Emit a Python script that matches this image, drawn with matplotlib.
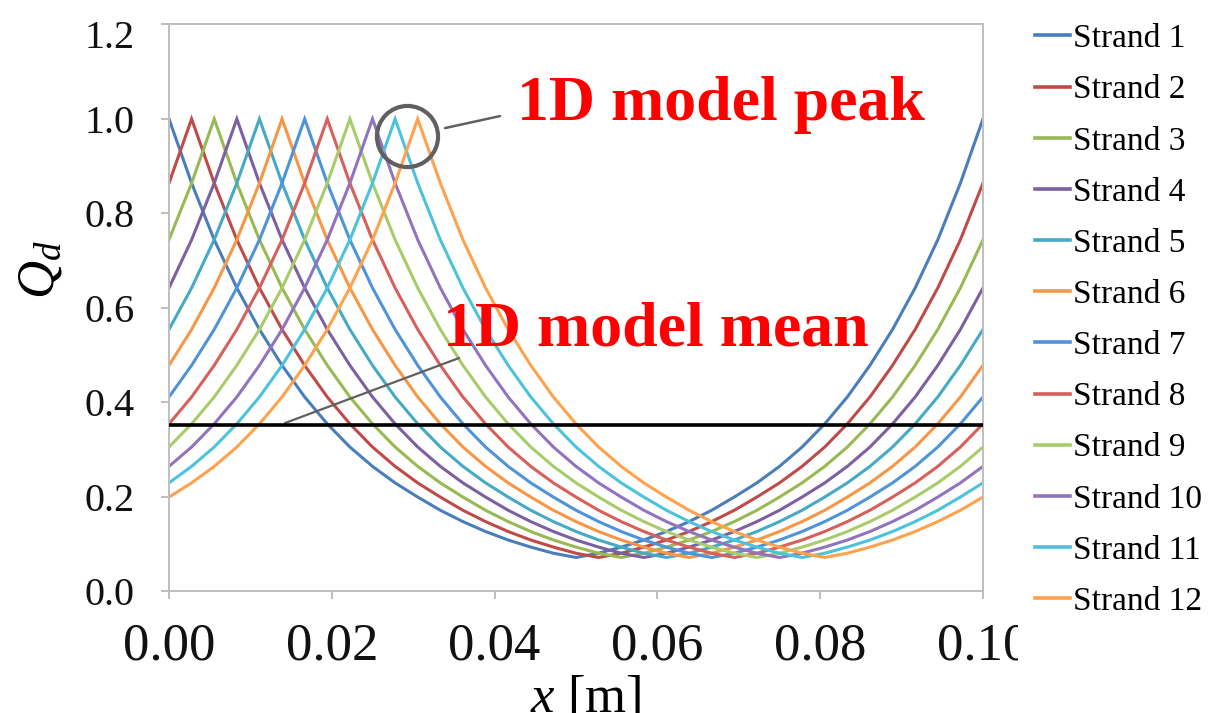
import numpy as np
import matplotlib
matplotlib.use("Agg")
import matplotlib.pyplot as plt
from matplotlib.patches import Rectangle
from matplotlib.transforms import ScaledTranslation

plt.rcParams["font.family"] = ["Liberation Serif", "DejaVu Serif"]
plt.rcParams["mathtext.fontset"] = "custom"
plt.rcParams["mathtext.rm"] = "Liberation Serif"
plt.rcParams["mathtext.it"] = "Liberation Serif:italic"

# Position along the strand [m]
x = np.linspace(0.0, 0.1, 37)

strand_1 = [1.0, 0.864, 0.744, 0.642, 0.554, 0.478, 0.411, 0.354, 0.305, 0.264, 0.229, 0.199, 0.171, 0.147, 0.126, 0.108, 0.093, 0.080, 0.071, 0.080, 0.093, 0.108, 0.126, 0.147, 0.171, 0.199, 0.229, 0.264, 0.305, 0.354, 0.411, 0.478, 0.554, 0.642, 0.744, 0.864, 1.0]
strand_2 = [0.864, 1.0, 0.864, 0.744, 0.642, 0.554, 0.478, 0.411, 0.354, 0.305, 0.264, 0.229, 0.199, 0.171, 0.147, 0.126, 0.108, 0.093, 0.080, 0.071, 0.080, 0.093, 0.108, 0.126, 0.147, 0.171, 0.199, 0.229, 0.264, 0.305, 0.354, 0.411, 0.478, 0.554, 0.642, 0.744, 0.864]
strand_3 = [0.744, 0.864, 1.0, 0.864, 0.744, 0.642, 0.554, 0.478, 0.411, 0.354, 0.305, 0.264, 0.229, 0.199, 0.171, 0.147, 0.126, 0.108, 0.093, 0.080, 0.071, 0.080, 0.093, 0.108, 0.126, 0.147, 0.171, 0.199, 0.229, 0.264, 0.305, 0.354, 0.411, 0.478, 0.554, 0.642, 0.744]
strand_4 = [0.642, 0.744, 0.864, 1.0, 0.864, 0.744, 0.642, 0.554, 0.478, 0.411, 0.354, 0.305, 0.264, 0.229, 0.199, 0.171, 0.147, 0.126, 0.108, 0.093, 0.080, 0.071, 0.080, 0.093, 0.108, 0.126, 0.147, 0.171, 0.199, 0.229, 0.264, 0.305, 0.354, 0.411, 0.478, 0.554, 0.642]
strand_5 = [0.554, 0.642, 0.744, 0.864, 1.0, 0.864, 0.744, 0.642, 0.554, 0.478, 0.411, 0.354, 0.305, 0.264, 0.229, 0.199, 0.171, 0.147, 0.126, 0.108, 0.093, 0.080, 0.071, 0.080, 0.093, 0.108, 0.126, 0.147, 0.171, 0.199, 0.229, 0.264, 0.305, 0.354, 0.411, 0.478, 0.554]
strand_6 = [0.478, 0.554, 0.642, 0.744, 0.864, 1.0, 0.864, 0.744, 0.642, 0.554, 0.478, 0.411, 0.354, 0.305, 0.264, 0.229, 0.199, 0.171, 0.147, 0.126, 0.108, 0.093, 0.080, 0.071, 0.080, 0.093, 0.108, 0.126, 0.147, 0.171, 0.199, 0.229, 0.264, 0.305, 0.354, 0.411, 0.478]
strand_7 = [0.411, 0.478, 0.554, 0.642, 0.744, 0.864, 1.0, 0.864, 0.744, 0.642, 0.554, 0.478, 0.411, 0.354, 0.305, 0.264, 0.229, 0.199, 0.171, 0.147, 0.126, 0.108, 0.093, 0.080, 0.071, 0.080, 0.093, 0.108, 0.126, 0.147, 0.171, 0.199, 0.229, 0.264, 0.305, 0.354, 0.411]
strand_8 = [0.354, 0.411, 0.478, 0.554, 0.642, 0.744, 0.864, 1.0, 0.864, 0.744, 0.642, 0.554, 0.478, 0.411, 0.354, 0.305, 0.264, 0.229, 0.199, 0.171, 0.147, 0.126, 0.108, 0.093, 0.080, 0.071, 0.080, 0.093, 0.108, 0.126, 0.147, 0.171, 0.199, 0.229, 0.264, 0.305, 0.354]
strand_9 = [0.305, 0.354, 0.411, 0.478, 0.554, 0.642, 0.744, 0.864, 1.0, 0.864, 0.744, 0.642, 0.554, 0.478, 0.411, 0.354, 0.305, 0.264, 0.229, 0.199, 0.171, 0.147, 0.126, 0.108, 0.093, 0.080, 0.071, 0.080, 0.093, 0.108, 0.126, 0.147, 0.171, 0.199, 0.229, 0.264, 0.305]
strand_10 = [0.264, 0.305, 0.354, 0.411, 0.478, 0.554, 0.642, 0.744, 0.864, 1.0, 0.864, 0.744, 0.642, 0.554, 0.478, 0.411, 0.354, 0.305, 0.264, 0.229, 0.199, 0.171, 0.147, 0.126, 0.108, 0.093, 0.080, 0.071, 0.080, 0.093, 0.108, 0.126, 0.147, 0.171, 0.199, 0.229, 0.264]
strand_11 = [0.229, 0.264, 0.305, 0.354, 0.411, 0.478, 0.554, 0.642, 0.744, 0.864, 1.0, 0.864, 0.744, 0.642, 0.554, 0.478, 0.411, 0.354, 0.305, 0.264, 0.229, 0.199, 0.171, 0.147, 0.126, 0.108, 0.093, 0.080, 0.071, 0.080, 0.093, 0.108, 0.126, 0.147, 0.171, 0.199, 0.229]
strand_12 = [0.199, 0.229, 0.264, 0.305, 0.354, 0.411, 0.478, 0.554, 0.642, 0.744, 0.864, 1.0, 0.864, 0.744, 0.642, 0.554, 0.478, 0.411, 0.354, 0.305, 0.264, 0.229, 0.199, 0.171, 0.147, 0.126, 0.108, 0.093, 0.080, 0.071, 0.080, 0.093, 0.108, 0.126, 0.147, 0.171, 0.199]

strands = [strand_1, strand_2, strand_3, strand_4, strand_5, strand_6,
           strand_7, strand_8, strand_9, strand_10, strand_11, strand_12]
labels = [f"Strand {i}" for i in range(1, 13)]
colors = ["#4A7EBB", "#BE4B48", "#98B954", "#7D60A0", "#46AAC5", "#F79646",
          "#4F94D9", "#D7605B", "#A8CC6A", "#9274BE", "#4DC2DC", "#FFA24D"]

mean_1d = 0.351

xticks = [0.0, 0.02, 0.04, 0.06, 0.08, 0.10]
xticklabels = ["0.00", "0.02", "0.04", "0.06", "0.08", "0.10"]
yticks = [0.0, 0.2, 0.4, 0.6, 0.8, 1.0, 1.2]
yticklabels = ["0.0", "0.2", "0.4", "0.6", "0.8", "1.0", "1.2"]

W, H = 1214, 713
fig = plt.figure(figsize=(W / 100, H / 100), dpi=100)
ax = fig.add_axes([169 / W, 1 - 591 / H, (983 - 169) / W, (591 - 24.5) / H])

handles = []
for y, c, lab in zip(strands, colors, labels):
    h, = ax.plot(x, y, color=c, lw=2.2, label=lab, solid_joinstyle="miter")
    handles.append(h)

ax.axhline(mean_1d, color="black", lw=2.6, zorder=5)

ax.set_xlim(0, 0.1)
ax.set_ylim(0, 1.2)
ax.set_xticks(xticks)
ax.set_xticklabels(xticklabels)
ax.set_yticks(yticks)
ax.set_yticklabels(yticklabels)

spine_c = "#BFBFBF"
for s in ax.spines.values():
    s.set_color(spine_c)
    s.set_linewidth(1.4)
ax.tick_params(axis="both", direction="out", length=6, width=1.4, color=spine_c,
               labelcolor="#111111")
ax.tick_params(axis="y", labelsize=29, pad=19)
ax.tick_params(axis="x", labelsize=38, pad=17)

# The top y label sits a little below its tick so it stays inside the frame
top_lab = ax.get_yticklabels()[-1]
top_lab.set_transform(top_lab.get_transform()
                      + ScaledTranslation(0, -10 / 100, fig.dpi_scale_trans))

fig.text(40 / W, 1 - 270 / H, r"$Q_d$", rotation=90, fontsize=38,
         ha="center", va="center")
fig.text(586 / W, 1 - 699 / H, r"$x$ [m]", fontsize=38, ha="center", va="center")

# Annotations
red = "#FF0000"
ax.text(0.04275, 0.998, "1D model peak", color=red, fontsize=46,
        fontweight="bold", ha="left", va="baseline")
ax.text(0.03366, 0.521, "1D model mean", color=red, fontsize=46,
        fontweight="bold", ha="left", va="baseline")

peak_x = x[10]
ax.plot([peak_x + 0.00146], [0.9637], marker="o", ms=44, mfc="none",
        mec="#606060", mew=3.0, zorder=6, clip_on=False)
ax.annotate("", xy=(0.03391, 0.9806), xytext=(0.04066, 1.006),
            arrowprops=dict(arrowstyle="-", color="#606060", lw=1.8,
                            shrinkA=0, shrinkB=0))
ax.annotate("", xy=(0.01425, 0.3558), xytext=(0.03563, 0.4935),
            arrowprops=dict(arrowstyle="-", color="#606060", lw=1.6,
                            shrinkA=0, shrinkB=0))

# White panel behind the legend column (it hides the tail of the last tick label)
fig.patches.append(Rectangle((1018 / W, 0), 1 - 1018 / W, 1,
                             transform=fig.transFigure, facecolor="white",
                             edgecolor="none", zorder=1))

leg = fig.legend(handles, labels, loc="upper left",
                 bbox_to_anchor=(1018 / W, 1 - 7 / H), frameon=False,
                 fontsize=24, handlelength=1.05, handletextpad=0.1,
                 labelspacing=0.62, borderpad=0.5, borderaxespad=0)
leg.set_zorder(5)
for line in leg.get_lines():
    line.set_linewidth(2.6)

fig.savefig("out.png", dpi=100)
